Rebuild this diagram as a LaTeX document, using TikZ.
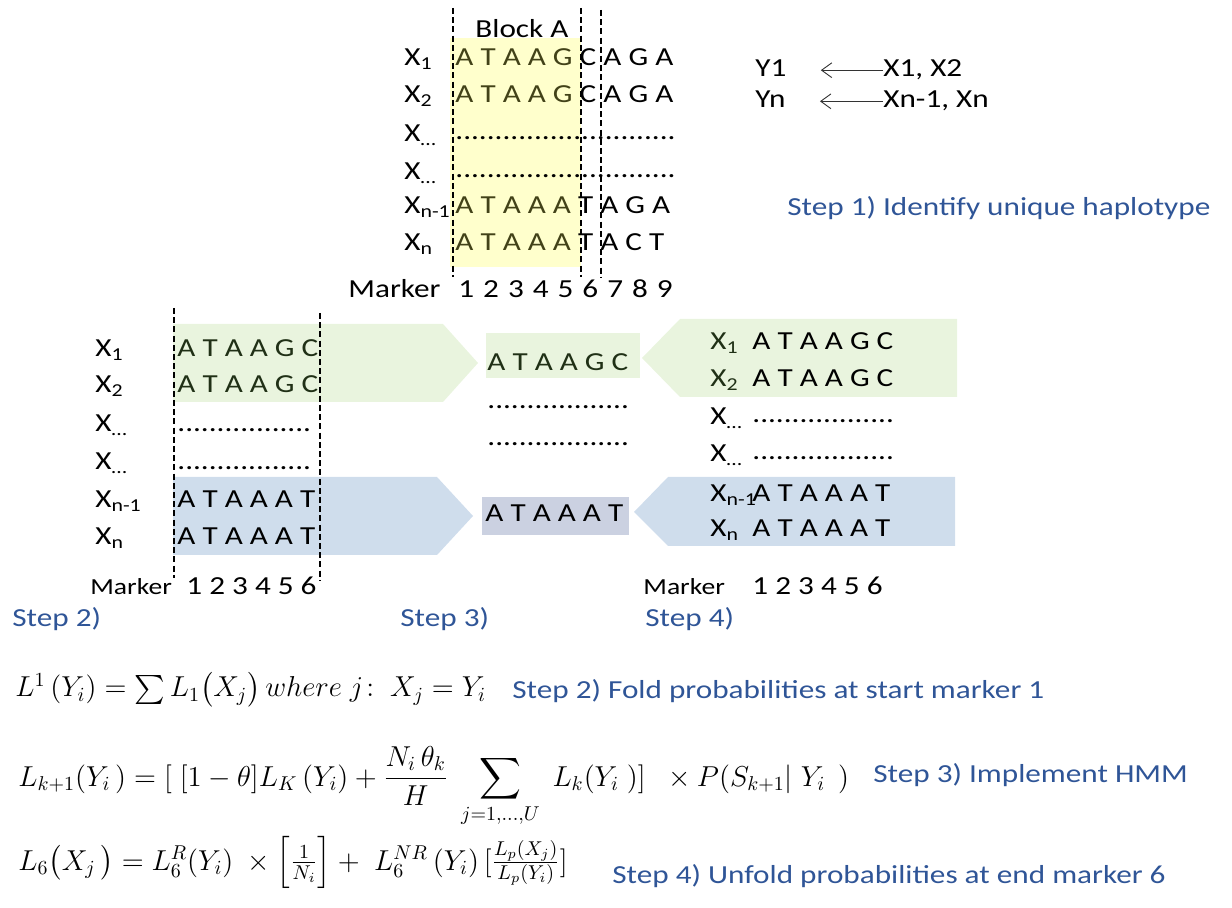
\documentclass[tikz,border=0pt]{standalone}
\usepackage{amsmath,amssymb}
\usepackage{fontspec}
\setmainfont{Carlito}[FakeStretch=1.2]
\usepackage{tikz}
\usetikzlibrary{positioning,arrows.meta}
\definecolor{stepblue}{RGB}{47,85,151}
\definecolor{blocky}{RGB}{255,255,204}
\definecolor{hapg}{RGB}{233,244,222}
\definecolor{hapb}{RGB}{207,221,236}
\definecolor{mrgb}{RGB}{203,209,225}
\definecolor{ylwink}{RGB}{66,66,24}
\definecolor{grnink}{RGB}{32,48,22}
\newcommand{\hapfont}{\fontsize{13}{15}\selectfont}
\newcommand{\wide}{\spaceskip=4.5pt plus 0pt\relax}
\tikzset{
  sq/.style={font=\hapfont, inner sep=0pt, anchor=base west},
  gq/.style={sq, text=grnink},
  mk/.style={font=\fontsize{11.5}{13}\selectfont, inner sep=0pt, anchor=base west},
  stp/.style={font=\hapfont, text=stepblue, inner sep=0pt, anchor=base west},
  eqn/.style={font=\fontsize{14.5}{17}\selectfont, inner sep=0pt, anchor=base west},
  bnd/.style={line width=1pt, dash pattern=on 3pt off 1.6pt},
  fl/.style={-{Straight Barb[length=1.8mm, width=2.6mm]}, black!80, line width=0.45pt},
}

\begin{document}
\begin{tikzpicture}[x=0.5pt, y=-0.5pt]
\useasboundingbox (0,0) rectangle (1232,908);
\fill[blocky] (450,38) rectangle (581,267);
\fill[hapg] (173,324) -- (443,324) -- (478,363) -- (443,402) -- (173,402) -- cycle;
\fill[hapb] (173,477) -- (437,477) -- (473,516) -- (437,555) -- (173,555) -- cycle;
\fill[hapg] (486,333) rectangle (640,378);
\fill[mrgb] (482,497) rectangle (629,535);
\fill[hapg] (642,358) -- (680,319) -- (957,319) -- (957,397) -- (680,397) -- cycle;
\fill[hapb] (634,512) -- (668,477) -- (955,477) -- (955,546) -- (668,546) -- cycle;
\draw[bnd] (453,8) -- (453,277);
\draw[bnd] (581,8) -- (581,277);
\draw[bnd] (601,10) -- (601,277);
\draw[bnd] (174,308) -- (174,578);
\draw[bnd] (320,313) -- (320,580);

\node[sq] (blk) at (475,38) {Block A};
\node[sq] (a1) at (404,66) {X\textsubscript{1}};
\node[sq] (a2) at (404,103) {X\textsubscript{2}};
\node[sq] (a3) at (404,142) {X\textsubscript{…}};
\node[sq] (a4) at (404,180) {X\textsubscript{…}};
\node[sq] (a5) at (404,214) {X\textsubscript{n-1}};
\node[sq] (a6) at (404,251) {X\textsubscript{n}};
\node[sq] (sa1) at (455,66) {{\color{ylwink}A T A A G} C A G A};
\node[sq] (sa2) at (455,103) {{\color{ylwink}A T A A G} C A G A};
\node[sq] (sa3) at (455,140) {............................};
\node[sq] (sa4) at (455,178) {............................};
\node[sq] (sa5) at (455,214) {{\color{ylwink}A T A A A} T A G A};
\node[sq] (sa6) at (455,251) {{\color{ylwink}A T A A A} T A C T};
\node[sq] (mka) at (348,298) {Marker};
\node[sq] (nma) at (458,298) {\wide 1 2 3 4 5 6 7 8 9};

\node[sq] (y1) at (755,77) {Y1};
\node[sq] (yn) at (755,108) {Yn};
\node[sq] (x12) at (883,77) {X1, X2};
\node[sq] (xnn) at (883,108) {Xn-1, Xn};
\draw[fl, shorten >=17pt] (x12.west) -- (y1.east |- x12.west);
\draw[fl, shorten >=17pt] (xnn.west) -- (yn.east |- xnn.west);
\node[stp] (s1) at (787,216) {Step 1) Identify unique haplotype};

\node[sq] (b1) at (95,357) {X\textsubscript{1}};
\node[sq] (b2) at (95,393) {X\textsubscript{2}};
\node[sq] (b3) at (95,432) {X\textsubscript{…}};
\node[sq] (b4) at (95,470) {X\textsubscript{…}};
\node[sq] (b5) at (95,508) {X\textsubscript{n-1}};
\node[sq] (b6) at (95,545) {X\textsubscript{n}};
\node[gq] (sb1) at (177,357) {A T A A G C};
\node[gq] (sb2) at (177,393) {A T A A G C};
\node[sq] (sb3) at (177,432) {.................};
\node[sq] (sb4) at (177,470) {.................};
\node[sq] (sb5) at (177,508) {A T A A A T};
\node[sq] (sb6) at (177,545) {A T A A A T};
\node[mk] (mkb) at (90,595) {Marker};
\node[sq] (nmb) at (186,595) {1 2 3 4 5 6};
\node[stp] (s2) at (12,627) {Step 2)};

\node[gq] (hg) at (487,371) {A T A A G C};
\node[sq] (hd1) at (487,409) {..................};
\node[sq] (hd2) at (487,446) {..................};
\node[sq] (hb) at (485,522) {A T A A A T};
\node[stp] (s3) at (400,627) {Step 3)};

\node[gq] (c1) at (710,350) {X\textsubscript{1}};
\node[gq] (c2) at (710,387) {X\textsubscript{2}};
\node[sq] (c3) at (710,425) {X\textsubscript{…}};
\node[sq] (c4) at (710,462) {X\textsubscript{…}};
\node[sq] (c5) at (710,502) {X\textsubscript{n-1}};
\node[sq] (c6) at (710,537) {X\textsubscript{n}};
\node[sq] (sc1) at (752,350) {A T A A G C};
\node[sq] (sc2) at (752,387) {A T A A G C};
\node[sq] (sc3) at (752,423) {..................};
\node[sq] (sc4) at (752,460) {..................};
\node[sq] (sc5) at (752,502) {A T A A A T};
\node[sq] (sc6) at (752,537) {A T A A A T};
\node[mk] (mkc) at (643,595) {Marker};
\node[sq] (nmc) at (752,595) {1 2 3 4 5 6};
\node[stp] (s4) at (645,627) {Step 4)};

\node[eqn] (e1) at (15,697) {$L^{1}\,(Y_i) = \sum L_1\bigl(X_j\bigr)\,where\ j\!:\ X_j = Y_i$};
\node[stp] (t1) at (512,698) {Step 2) Fold probabilities at start marker 1};
\node[eqn] (e2) at (18,786) {$\displaystyle L_{k+1}(Y_i\,) = [\;[1-\theta]L_K\,(Y_i) + \frac{N_i\,\theta_k}{H}\;\sum_{j=1,\dots,U} \;L_k(Y_i\;)]\;\;\times P(S_{k+1}|\;Y_i\;\,)$};
\node[stp] (t2) at (873,783) {Step 3) Implement HMM};
\node[eqn] (e3) at (18,870) {$L_6\bigl(X_j\,\bigr) = L^R_6(Y_i)\;\times\left[\frac{1}{N_i}\right] +\; L^{NR}_6\,(Y_i)\,[\frac{L_p(X_j)}{L_p(Y_i)}]$};
\node[stp] (t3) at (612,883) {Step 4) Unfold probabilities at end marker 6};
\end{tikzpicture}
\end{document}
